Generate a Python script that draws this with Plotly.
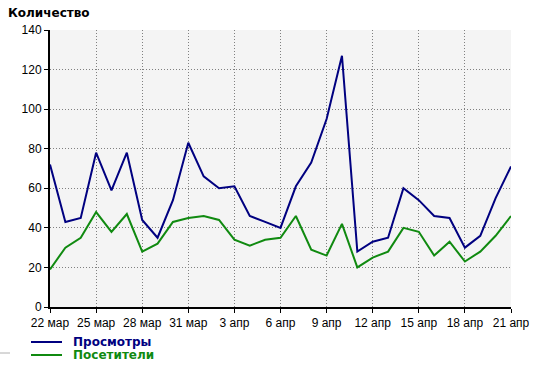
import plotly.graph_objects as go

dates = ["2008-03-%02d" % d for d in range(22, 32)] + ["2008-04-%02d" % d for d in range(1, 22)]
views = [72, 43, 45, 78, 59, 78, 44, 35, 54, 83, 66, 60, 61, 46, 43, 40, 61, 73, 95, 127,
         28, 33, 35, 60, 54, 46, 45, 30, 36, 55, 71]
visitors = [19, 30, 35, 48, 38, 47, 28, 32, 43, 45, 46, 44, 34, 31, 34, 35, 46, 29, 26, 42,
            20, 25, 28, 40, 38, 26, 33, 23, 28, 36, 46]
tick_dates = ["2008-03-22", "2008-03-25", "2008-03-28", "2008-03-31", "2008-04-03", "2008-04-06",
              "2008-04-09", "2008-04-12", "2008-04-15", "2008-04-18", "2008-04-21"]
tick_labels = ["22 мар", "25 мар", "28 мар", "31 мар", "3 апр", "6 апр", "9 апр", "12 апр",
               "15 апр", "18 апр", "21 апр"]
y_ticks = [0, 20, 40, 60, 80, 100, 120, 140]
series_names = ["Просмотры", "Посетители"]
series_colors = ["#000080", "#108a10"]

W, H = 533, 365
L, R, T, B = 50, 511, 30, 307


def px(x):
    return (x - L) / (R - L)


def py(y):
    return (B - y) / (B - T)


fig = go.Figure()
for vals, name, color in zip([views, visitors], series_names, series_colors):
    fig.add_trace(go.Scatter(x=dates, y=vals, mode="lines", name=name,
                             line=dict(color=color, width=2), showlegend=False, hoverinfo="skip"))

fig.update_layout(
    width=W, height=H,
    margin=dict(l=L, r=W - R, t=T, b=H - B, autoexpand=False),
    paper_bgcolor="white", plot_bgcolor="#f4f4f4",
    font=dict(family="Liberation Sans, Arial, sans-serif", size=12, color="black"),
    showlegend=False,
)

fig.add_annotation(text="<b>Количество</b>", xref="paper", yref="paper", x=px(6), y=py(13),
                   xanchor="left", yanchor="middle", showarrow=False,
                   font=dict(size=12, family="DejaVu Sans, sans-serif"))

for i, (name, color) in enumerate(zip(series_names, series_colors)):
    yy = 342 + 13 * i
    fig.add_shape(type="line", xref="paper", yref="paper", x0=px(31), x1=px(62), y0=py(yy), y1=py(yy),
                  line=dict(color=color, width=2))
    fig.add_annotation(text="<b>%s</b>" % name, xref="paper", yref="paper", x=px(71), y=py(yy),
                       xanchor="left", yanchor="middle", showarrow=False,
                       font=dict(size=12, color=color, family="DejaVu Sans, sans-serif"))

fig.add_shape(type="line", xref="paper", yref="paper", x0=px(0), x1=px(10), y0=py(353), y1=py(353),
              line=dict(color="#b0b0b0", width=1))

fig.update_xaxes(type="date", range=[dates[0], dates[-1]], tickvals=tick_dates, ticktext=tick_labels,
                 tickangle=0, showgrid=True, gridcolor="#808080", griddash="1px,2px", gridwidth=1,
                 showline=True, linecolor="black", linewidth=2, ticks="outside", ticklen=4,
                 tickcolor="black", zeroline=False)
fig.update_yaxes(range=[0, 140], tickvals=y_ticks, showgrid=True, gridcolor="#808080",
                 griddash="1px,2px", gridwidth=1, showline=True, linecolor="black", linewidth=2,
                 ticks="outside", ticklen=4, tickcolor="black", zeroline=False)

fig.write_html("out.html", config={"displayModeBar": False},
               post_script="document.body.style.margin='0';document.body.style.padding='0';")
